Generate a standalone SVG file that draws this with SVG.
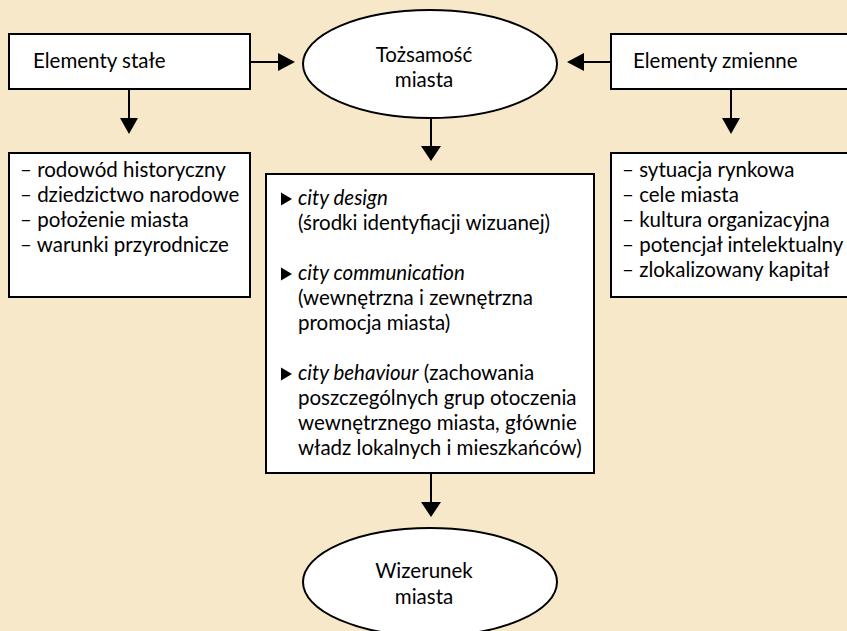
<svg xmlns="http://www.w3.org/2000/svg" width="847" height="631" viewBox="0 0 847 631">
<defs>
<style>
.box{fill:#fff;stroke:#000;stroke-width:2}
.t{font-family:Lato,"Open Sans","Liberation Sans",sans-serif;font-size:20.5px;fill:#000}
.c{text-anchor:middle}
.i{font-style:italic}
.ln{stroke:#000;stroke-width:2;fill:none}
</style>
<path id="tri" d="M0,-6.5 L11,0 L0,6.5 Z" fill="#000"/>
</defs>
<rect width="847" height="631" fill="#F6E8C8"/>
<g id="connectors">
<line class="ln" x1="250" y1="62" x2="280" y2="62"/><path d="M278,53 L295,62 L278,71 Z"/>
<line class="ln" x1="611" y1="62" x2="584" y2="62"/><path d="M584,53 L567,62 L584,71 Z"/>
<line class="ln" x1="129" y1="89" x2="129" y2="120"/><path d="M120,118 L129,134 L138,118 Z"/>
<line class="ln" x1="731" y1="89" x2="731" y2="120"/><path d="M722,118 L731,134 L740,118 Z"/>
<line class="ln" x1="431" y1="118" x2="431" y2="148"/><path d="M421,146 L431,161 L441,146 Z"/>
<line class="ln" x1="431" y1="473" x2="431" y2="504"/><path d="M421,502 L431,517 L441,502 Z"/>
</g>
<g id="elementy-stale">
<rect class="box" x="9" y="34" width="241" height="55"/>
<text class="t" x="33" y="68">Elementy stałe</text>
</g>
<g id="tozsamosc">
<ellipse class="box" cx="430" cy="64" rx="127" ry="54"/>
<text class="t c" x="424" y="62">Tożsamość</text>
<text class="t c" x="424" y="87">miasta</text>
</g>
<g id="elementy-zmienne">
<rect class="box" x="611" y="34" width="250" height="55"/>
<text class="t" x="633" y="68">Elementy zmienne</text>
</g>
<g id="stale-lista">
<rect class="box" x="9" y="153" width="241" height="144"/>
<text class="t" x="20" y="177">– rodowód historyczny</text>
<text class="t" x="20" y="202">– dziedzictwo narodowe</text>
<text class="t" x="20" y="227">– położenie miasta</text>
<text class="t" x="20" y="252">– warunki przyrodnicze</text>
</g>
<g id="zmienne-lista">
<rect class="box" x="611" y="153" width="250" height="144"/>
<text class="t" x="622" y="177">– sytuacja rynkowa</text>
<text class="t" x="622" y="202">– cele miasta</text>
<text class="t" x="622" y="227">– kultura organizacyjna</text>
<text class="t" x="622" y="252">– potencjał intelektualny</text>
<text class="t" x="622" y="277">– zlokalizowany kapitał</text>
</g>
<g id="srodki">
<rect class="box" x="266" y="174" width="328" height="299"/>
<use href="#tri" x="281" y="199"/>
<text class="t i" x="298" y="205">city design</text>
<text class="t" x="298" y="230">(środki identyfiacji wizuanej)</text>
<use href="#tri" x="281" y="274"/>
<text class="t i" x="298" y="280">city communication</text>
<text class="t" x="298" y="305">(wewnętrzna i zewnętrzna</text>
<text class="t" x="298" y="330">promocja miasta)</text>
<use href="#tri" x="281" y="374"/>
<text class="t" x="298" y="380"><tspan class="i">city behaviour</tspan> (zachowania</text>
<text class="t" x="298" y="405">poszczególnych grup otoczenia</text>
<text class="t" x="298" y="430">wewnętrznego miasta, głównie</text>
<text class="t" x="298" y="455">władz lokalnych i mieszkańców)</text>
</g>
<g id="wizerunek">
<ellipse class="box" cx="430" cy="582" rx="127" ry="54"/>
<text class="t c" x="424" y="578">Wizerunek</text>
<text class="t c" x="424" y="604">miasta</text>
</g>
</svg>
